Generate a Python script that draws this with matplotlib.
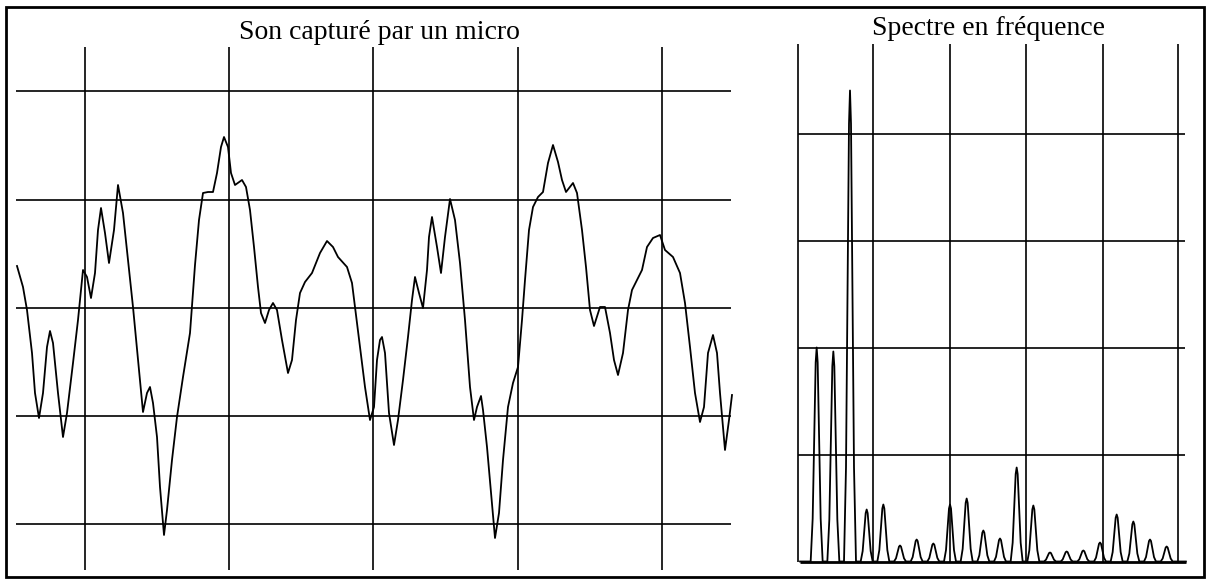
import numpy as np
import matplotlib.pyplot as plt
from matplotlib.patches import Rectangle

plt.rcParams["font.family"] = ["Liberation Serif", "DejaVu Serif"]

# microphone signal (time in arbitrary units, amplitude in arbitrary units)
t_sig = [17, 23, 27, 32, 35, 39, 43, 47, 50, 53,
         58, 63, 67, 73, 78, 83, 87, 91, 95, 98,
         101, 105, 109, 114, 118, 123, 128, 133, 138, 143,
         147, 150, 153, 157, 160, 164, 167, 172, 177, 183,
         190, 195, 199, 203, 208, 213, 217, 221, 224, 228,
         231, 235, 242, 246, 250, 254, 258, 261, 265, 269,
         273, 277, 282, 288, 292, 296, 300, 305, 312, 320,
         327, 333, 338, 347, 352, 355, 360, 365, 370, 374,
         377, 380, 382, 385, 389, 394, 398, 403, 408, 412,
         415, 419, 423, 427, 429, 432, 437, 441, 445, 450,
         455, 460, 465, 470, 474, 477, 481, 483, 487, 491,
         495, 499, 503, 508, 513, 518, 522, 525, 529, 533,
         538, 543, 548, 553, 558, 562, 566, 573, 577, 582,
         586, 590, 594, 600, 605, 610, 614, 618, 623, 628,
         632, 637, 642, 647, 653, 660, 665, 673, 680, 685,
         690, 695, 700, 704, 708, 713, 717, 720, 725, 729,
         732]
a_sig = [42, 21, -2, -45, -85, -110, -85, -39, -23, -35,
         -85, -129, -105, -55, -12, 38, 31, 10, 35, 78,
         100, 75, 45, 78, 123, 95, 48, 1, -52, -104,
         -85, -79, -95, -129, -179, -227, -202, -152, -109, -69,
         -25, 43, 88, 115, 116, 116, 135, 161, 171, 161,
         135, 123, 128, 121, 98, 61, 21, -5, -15, -2,
         5, -2, -32, -65, -52, -12, 15, 26, 35, 55,
         67, 61, 51, 41, 25, 1, -39, -79, -112, -99,
         -52, -32, -29, -45, -105, -137, -112, -72, -29, 8,
         31, 15, 0, 38, 71, 91, 61, 35, 71, 109,
         88, 45, -12, -79, -112, -99, -88, -102, -139, -185,
         -230, -205, -152, -99, -75, -59, -12, 28, 78, 101,
         111, 116, 145, 163, 146, 128, 116, 125, 115, 78,
         41, -2, -18, 1, 1, -25, -52, -67, -45, -2,
         18, 28, 38, 61, 70, 73, 58, 51, 35, 5,
         -39, -85, -114, -99, -45, -27, -45, -85, -142, -112,
         -87]
sig_tgrid = [85, 229, 373, 518, 662]
sig_agrid = [-216, -108, 0, 108, 217]

# spectrum: harmonic rank and peak height
harm = list(range(1, 23))
harm_amp = [214, 210, 471, 52, 57, 16, 22, 18, 57, 63, 31,
            23, 94, 56, 9, 10, 11, 19, 47, 40, 22, 15]
spec_fgrid = [-0.1, 4.4, 9.0, 13.55, 18.15, 22.7]
spec_agrid = [107, 214, 321, 428]

INK = "black"
fig = plt.figure(figsize=(12.10, 5.81), dpi=100)
W, H = 1210, 581

# left: waveform
ax = fig.add_axes([14 / W, 11 / H, 722 / W, 523 / H])
ax.set_xlim(14, 736); ax.set_ylim(-262, 261)
ax.axis("off")
ax.vlines(sig_tgrid, -262, 261, color=INK, lw=1.2)
ax.hlines(sig_agrid, 16, 731, color=INK, lw=1.2)
ax.plot(t_sig, a_sig, color=INK, lw=1.3)

# right: spectrum
ax2 = fig.add_axes([795 / W, 16 / H, 395 / W, 525 / H])
ax2.set_xlim(-0.3, 23.4); ax2.set_ylim(-3.5, 521.5)
ax2.axis("off")
ax2.vlines(spec_fgrid, 0, 518, color=INK, lw=1.2)
ax2.hlines(spec_agrid, -0.1, 23.1, color=INK, lw=1.2)
ax2.hlines(0, 0, 23.15, color=INK, lw=2.0)
off = np.array([-0.36, -0.24, -0.14, -0.06, 0, 0.06, 0.14, 0.24, 0.36])
frac = np.array([0, 0.2, 0.6, 0.93, 1, 0.93, 0.6, 0.2, 0])
xs, ys = [0.0], [0.0]
for h, a in zip(harm, harm_amp):
    xs += list(h + off); ys += list(a * frac)
xs.append(23.15); ys.append(0.0)
ax2.plot(xs, ys, color=INK, lw=1.3)

fig.text(379 / W, 1 - 39 / H, "Son capturé par un micro", ha="center", va="baseline", fontsize=20)
fig.text(989 / W, 1 - 35 / H, "Spectre en fréquence", ha="center", va="baseline", fontsize=20)
fig.add_artist(Rectangle((6 / W, 4 / H), 1198 / W, 570 / H, transform=fig.transFigure,
                         fill=False, edgecolor=INK, lw=2.0))

fig.savefig("out.png", dpi=100)
